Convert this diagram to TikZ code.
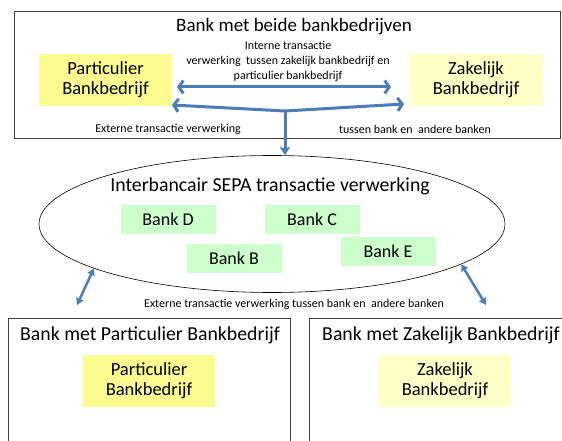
\documentclass[tikz,border=0pt]{standalone}
\usepackage{fontspec}
\setmainfont{Carlito}
\usetikzlibrary{arrows.meta,shapes.geometric}
\definecolor{geel}{HTML}{FBFB8F}
\definecolor{lichtgeel}{HTML}{FFFFC8}
\definecolor{groen}{HTML}{CCFFCC}
\definecolor{pijlblauw}{HTML}{4A7EBB}

\begin{document}
\begin{tikzpicture}[x=1pt,y=-1pt,
  kader/.style={draw=black!75,line width=0.8pt},
  titel/.style={font=\fontsize{19.8}{22}\selectfont},
  bedrijf/.style={inner sep=0pt,minimum width=133pt,minimum height=52pt,align=center,font=\fontsize{18.5}{20}\selectfont},
  bank/.style={fill=groen,inner sep=0pt,minimum width=95pt,minimum height=29pt,font=\fontsize{18}{20}\selectfont},
  klein/.style={align=center,font=\fontsize{12}{15}\selectfont},
  pijl/.style={pijlblauw,line width=3pt,line join=round,{Straight Barb[length=4.5pt,width=13pt]}-{Straight Barb[length=4.5pt,width=13pt]}},
  pijlklein/.style={pijlblauw,line width=2.5pt,{Stealth[length=7pt,width=8pt,inset=1pt]}-{Stealth[length=7pt,width=8pt,inset=1pt]}}]
\useasboundingbox (0,0) rectangle (562,441);
\clip (0,0) rectangle (562,441);
% bank met beide bankbedrijven
\draw[kader] (14,11) rectangle (560,138);
\node[titel,font=\fontsize{19}{22}\selectfont] (beide) at (294,27) {Bank met beide bankbedrijven};
\node[bedrijf,fill=geel] (part) at (105.5,80) {Particulier\\Bankbedrijf};
\node[bedrijf,fill=lichtgeel] (zak) at (476,80) {Zakelijk\\Bankbedrijf};
\node[klein] (intern) at (288,61) {Interne transactie\\verwerking\ \ tussen zakelijk bankbedrijf en\\particulier bankbedrijf};
\node[klein] (extern1) at (168,129) {Externe transactie verwerking};
\node[klein] (extern2) at (415,129) {tussen bank en\ \ andere banken};
\coordinate (p1) at (177,87);
\coordinate (z1) at (391,87);
\draw[pijl] (p1) -- (z1);
\coordinate (splits) at (285,111);
\coordinate (p2) at (172,105);
\coordinate (z2) at (404,104);
\draw[pijl] (p2) -- (splits) -- (z2);
% interbancair
\node[draw=black,line width=0.6pt,ellipse,minimum width=466pt,minimum height=137pt] (sepa) at (272,224) {};
\draw[pijlblauw,line width=3pt,-{Stealth[length=8pt,width=10pt,inset=1pt]}] (splits) -- (splits |- sepa.north);
\node[titel] (sepatitel) at (270,186) {Interbancair SEPA transactie verwerking};
\node[bank] (bankd) at (168,219) {Bank D};
\node[bank] (bankc) at (312,219) {Bank C};
\node[bank] (bankb) at (234,258) {Bank B};
\node[bank] (banke) at (388,251) {Bank E};
\coordinate (links) at (77,305);
\coordinate (rechts) at (486,305);
\draw[pijlklein] (sepa.194) -- (links);
\draw[pijlklein] (sepa.-12) -- (rechts);
\node[klein] (extern3) at (294,304) {Externe transactie verwerking tussen bank en\ \ andere banken};
% losse banken
\draw[kader] (8,318) rectangle (290,460);
\draw[kader] (309,318) rectangle (570,460);
\node[titel] (bankpart) at (150,335) {Bank met Particulier Bankbedrijf};
\node[titel] (bankzak) at (441,335) {Bank met Zakelijk Bankbedrijf};
\node[bedrijf,fill=geel,minimum width=132pt,minimum height=52pt] (part2) at (149,381) {Particulier\\Bankbedrijf};
\node[bedrijf,fill=lichtgeel,minimum width=132pt,minimum height=52pt] (zak2) at (445,381) {Zakelijk\\Bankbedrijf};
\end{tikzpicture}
\end{document}
